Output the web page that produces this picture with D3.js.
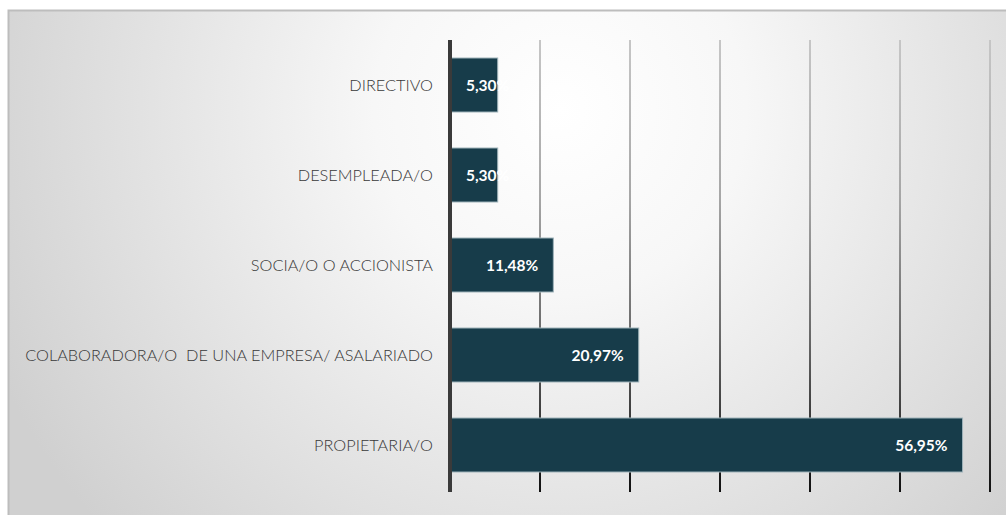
<!DOCTYPE html>
<html>
<head>
<meta charset="utf-8">
<script src="https://cdn.jsdelivr.net/npm/d3@7"></script>
<style>
  body { margin: 0; background: #fff; }
  svg { display: block; }
</style>
</head>
<body>
<script>
// Categories top to bottom and their percentages
const categories = [
  "DIRECTIVO",
  "DESEMPLEADA/O",
  "SOCIA/O O ACCIONISTA",
  "COLABORADORA/O  DE UNA EMPRESA/ ASALARIADO",
  "PROPIETARIA/O"
];
const values = [5.30, 5.30, 11.48, 20.97, 56.95];
const labels = ["5,30%", "5,30%", "11,48%", "20,97%", "56,95%"];
const ticks = [0, 10, 20, 30, 40, 50, 60];

const width = 1006;
const height = 515;

const svg = d3.select("body")
  .append("svg")
  .attr("width", width)
  .attr("height", height);

const defs = svg.append("defs");

// soft light background
const bg = defs.append("radialGradient")
  .attr("id", "bg")
  .attr("gradientUnits", "userSpaceOnUse")
  .attr("cx", 560).attr("cy", 110).attr("r", 620);
bg.append("stop").attr("offset", "0").attr("stop-color", "#ffffff");
bg.append("stop").attr("offset", "0.3").attr("stop-color", "#f7f7f7");
bg.append("stop").attr("offset", "1").attr("stop-color", "#d0d0d0");

// grid lines get darker toward the bottom
const gg = defs.append("linearGradient")
  .attr("id", "grid")
  .attr("gradientUnits", "userSpaceOnUse")
  .attr("x1", 0).attr("y1", 40).attr("x2", 0).attr("y2", 492);
gg.append("stop").attr("offset", "0").attr("stop-color", "#c6c6c6");
gg.append("stop").attr("offset", "0.35").attr("stop-color", "#a6a6a6");
gg.append("stop").attr("offset", "0.65").attr("stop-color", "#6a6a6a");
gg.append("stop").attr("offset", "1").attr("stop-color", "#111111");

svg.append("rect")
  .attr("x", 8.5).attr("y", 10.5)
  .attr("width", 1000).attr("height", 510)
  .attr("fill", "url(#bg)")
  .attr("stroke", "#bdbdbd")
  .attr("stroke-width", 2);

const x = d3.scaleLinear()
  .domain([0, 60])
  .range([450, 990]);

const y = d3.scaleBand()
  .domain(categories)
  .range([40, 490])
  .paddingInner(0.4)
  .paddingOuter(0.2);

// vertical grid lines
svg.append("g")
  .selectAll("line")
  .data(ticks.slice(1))
  .enter()
  .append("line")
  .attr("x1", d => x(d))
  .attr("x2", d => x(d))
  .attr("y1", 40)
  .attr("y2", 492)
  .attr("stroke", "url(#grid)")
  .attr("stroke-width", 2);

// bars
svg.append("g")
  .selectAll("rect")
  .data(values)
  .enter()
  .append("rect")
  .attr("x", x(0))
  .attr("y", (d, i) => y(categories[i]))
  .attr("width", d => x(d) - x(0))
  .attr("height", y.bandwidth())
  .attr("fill", "#173c4a")
  .attr("stroke", "#9fb3ba")
  .attr("stroke-width", 1);

// category axis
svg.append("line")
  .attr("x1", x(0)).attr("x2", x(0))
  .attr("y1", 40).attr("y2", 492)
  .attr("stroke", "#3a3a3a")
  .attr("stroke-width", 4);

svg.append("g")
  .selectAll("text")
  .data(categories)
  .enter()
  .append("text")
  .attr("x", 433)
  .attr("y", d => y(d) + y.bandwidth() / 2)
  .attr("dy", "0.36em")
  .attr("text-anchor", "end")
  .style("white-space", "pre")
  .attr("font-family", "Lato, 'Open Sans', sans-serif")
  .attr("font-weight", 300)
  .attr("font-size", 16.3)
  .attr("fill", "#383838")
  .text(d => d);

// value labels: at the inside end, but never starting left of the bar
const vl = svg.append("g")
  .selectAll("text")
  .data(values)
  .enter()
  .append("text")
  .attr("y", (d, i) => y(categories[i]) + y.bandwidth() / 2)
  .attr("dy", "0.36em")
  .attr("text-anchor", "start")
  .attr("font-family", "Lato, 'Open Sans', sans-serif")
  .attr("font-weight", "bold")
  .attr("font-size", 15.5)
  .attr("fill", "#ffffff")
  .text((d, i) => labels[i]);

vl.attr("x", function(d) {
  const w = this.getComputedTextLength();
  return Math.max(x(d) - 15 - w, x(0) + 16);
});
</script>
</body>
</html>
